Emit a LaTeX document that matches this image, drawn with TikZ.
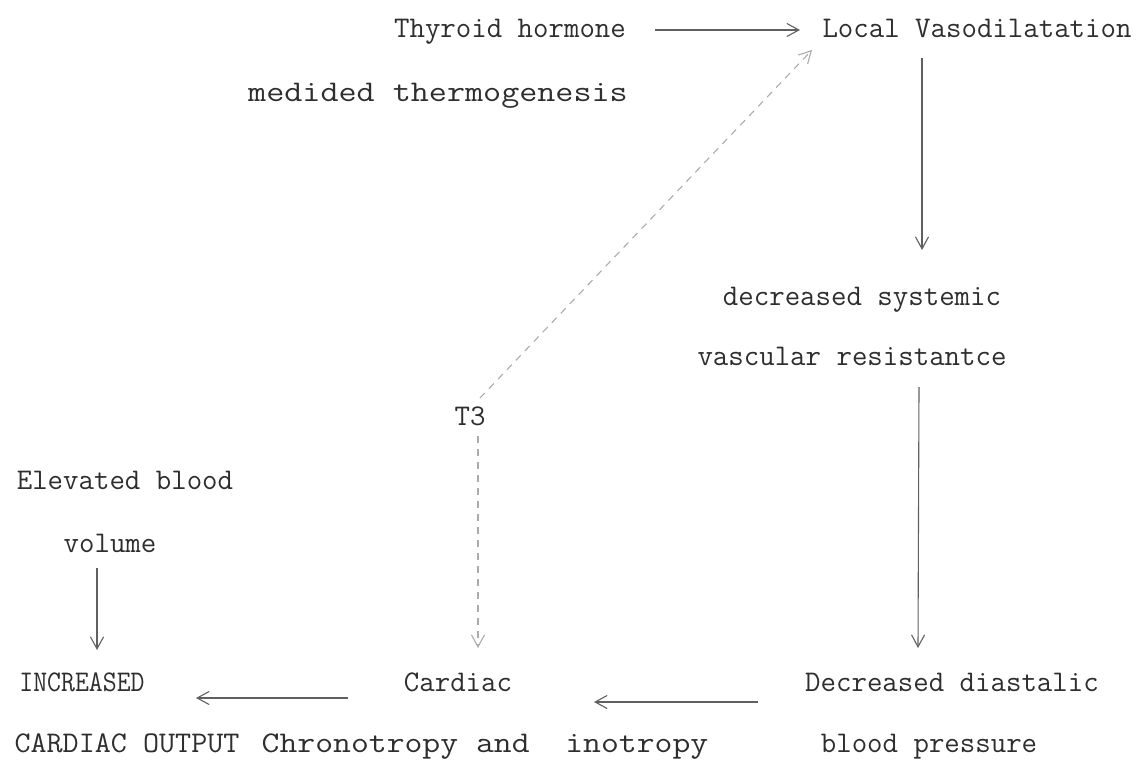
\documentclass[tikz,border=0pt]{standalone}
\usepackage{fontspec}
\usetikzlibrary{arrows.meta}
\definecolor{ink}{HTML}{2E2E2E}
\definecolor{lineink}{HTML}{606060}
\definecolor{dashink}{HTML}{ABABAB}
\tikzset{
  lbl/.style={anchor=base, inner sep=0pt, text=ink, font=\fontsize{30}{36}\selectfont\ttfamily},
  arr/.style={draw=lineink, line width=1.1pt, -{Straight Barb[length=12pt,width=13pt,line width=1.1pt]}},
  darr/.style={draw=dashink, line width=1.1pt, dash pattern=on 7pt off 6pt, -{Straight Barb[length=12pt,width=13pt,line width=1.1pt]}}
}
\begin{document}
\begin{tikzpicture}[x=1pt,y=-1pt]
\useasboundingbox (0,0) rectangle (1141,760);
\node[lbl] (thyroid) at (510,38) {Thyroid hormone};
\node[lbl] (local) at (977,38) {Local Vasodilatation};
\node[lbl] (medided) at (438,102) {\scalebox{1.17}[1]{medided thermogenesis}};
\node[lbl] (decsys) at (862,305) {decreased systemic};
\node[lbl] (vasc) at (852,365) {vascular resistantce};
\node[lbl] (t3) at (470,425) {T3};
\node[lbl] (elev) at (125,489) {Elevated blood};
\node[lbl] (vol) at (110,552) {volume};
\node[lbl] (incr) at (82,691) {\scalebox{0.9}[1]{INCREASED}};
\node[lbl] (cardiac) at (458,691) {Cardiac};
\node[lbl] (decdia) at (952,691) {Decreased diastalic};
\node[lbl] (co) at (127,752) {\scalebox{1.04}[1]{CARDIAC OUTPUT}};
\node[lbl] (chrono) at (485,752) {\scalebox{1.156}[1]{Chronotropy and\ \ inotropy}};
\node[lbl] (bp) at (929,752) {blood pressure};
% connector ends
\coordinate (a1s) at (655,30); \coordinate (a1e) at (800,30);
\coordinate (a2s) at (480,398); \coordinate (a2e) at (812,50);
\coordinate (a3s) at (922,58); \coordinate (a3e) at (922,250);
\coordinate (a4s) at (919,387); \coordinate (a4e) at (918,648);
\coordinate (a5s) at (478,436); \coordinate (a5e) at (478,648);
\coordinate (a6s) at (97,568); \coordinate (a6e) at (97,650);
\coordinate (a7s) at (348,698); \coordinate (a7e) at (196,698);
\coordinate (a8s) at (758,702); \coordinate (a8e) at (594,702);
\draw[arr] (a1s) -- (a1e);
\draw[darr] (a2s) -- (a2e);
\draw[arr] (a3s) -- (a3e);
\draw[arr] (a4s) -- (a4e);
\draw[darr] (a5s) -- (a5e);
\draw[arr] (a6s) -- (a6e);
\draw[arr] (a7s) -- (a7e);
\draw[arr] (a8s) -- (a8e);
\end{tikzpicture}
\end{document}
